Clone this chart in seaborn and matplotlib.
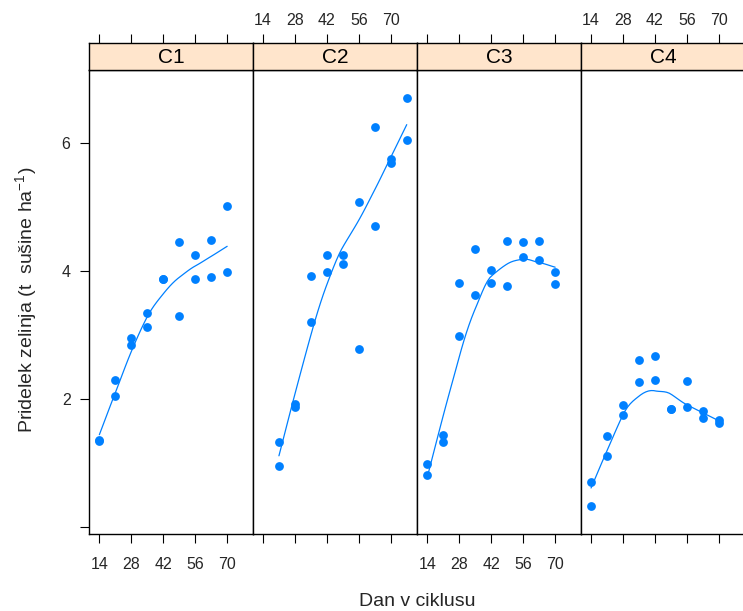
import numpy as np
import pandas as pd
import matplotlib
matplotlib.use('Agg')
import matplotlib.pyplot as plt
import seaborn as sns

# sampling days (two replicates per day)
days_14_70 = [14, 14, 21, 21, 28, 28, 35, 35, 42, 42, 49, 49, 56, 56, 63, 63, 70, 70]
days_21_77 = [21, 21, 28, 28, 35, 35, 42, 42, 49, 49, 56, 56, 63, 63, 70, 70, 77, 77]

panels = ['C1', 'C2', 'C3', 'C4']

c1 = [1.34, 1.36, 2.30, 2.05, 2.96, 2.85, 3.35, 3.12, 3.88, 3.87,
      4.45, 3.29, 4.25, 3.88, 4.49, 3.90, 5.01, 3.98]
c2 = [1.33, 0.95, 1.92, 1.87, 3.92, 3.21, 4.25, 3.98, 4.25, 4.11,
      5.08, 2.78, 6.25, 4.70, 5.75, 5.68, 6.69, 6.04]
c3 = [0.99, 0.81, 1.44, 1.33, 3.81, 2.99, 4.34, 3.62, 4.02, 3.81,
      4.46, 3.77, 4.45, 4.21, 4.46, 4.17, 3.98, 3.79]
c4 = [0.70, 0.34, 1.43, 1.12, 1.91, 1.75, 2.61, 2.26, 2.68, 2.30,
      1.85, 1.84, 2.28, 1.87, 1.82, 1.70, 1.68, 1.63]

df = pd.concat([
    pd.DataFrame({'panel': 'C1', 'day': days_14_70, 'yield': c1}),
    pd.DataFrame({'panel': 'C2', 'day': days_21_77, 'yield': c2}),
    pd.DataFrame({'panel': 'C3', 'day': days_14_70, 'yield': c3}),
    pd.DataFrame({'panel': 'C4', 'day': days_14_70, 'yield': c4}),
])


def loess(x, y, xnew, span=2/3, iterations=4):
    # local linear fit, tricube weights, bisquare robustness ("symmetric"),
    # values + slopes at vertices joined by cubic Hermite pieces (like R's interpolate)
    x = np.asarray(x, float)
    y = np.asarray(y, float)
    n = len(x)
    q = int(np.floor(n * span))
    rw = np.ones(n)

    def fit_at(x0):
        d = np.abs(x - x0)
        h = np.sort(d)[q - 1]
        u = np.clip(d / h, 0, 1)
        w = (1 - u**3)**3 * rw
        X = np.column_stack([np.ones(n), x - x0])
        A = X.T @ (X * w[:, None])
        b = X.T @ (w * y)
        return np.linalg.solve(A, b)

    for it in range(iterations - 1):
        res = y - np.array([fit_at(v)[0] for v in x])
        s = np.median(np.abs(res))
        u = np.clip(res / (6 * s), -1, 1)
        rw = (1 - u**2)**2

    verts = np.unique(x)
    fits = np.array([fit_at(v) for v in verts])
    out = []
    for xv in xnew:
        k = min(np.searchsorted(verts, xv, side='right') - 1, len(verts) - 2)
        x0, x1 = verts[k], verts[k + 1]
        hh = x1 - x0
        t = (xv - x0) / hh
        h00 = 2*t**3 - 3*t**2 + 1
        h10 = t**3 - 2*t**2 + t
        h01 = -2*t**3 + 3*t**2
        h11 = t**3 - t**2
        out.append(h00*fits[k, 0] + h10*hh*fits[k, 1] + h01*fits[k+1, 0] + h11*hh*fits[k+1, 1])
    return np.array(out)


sns.set_theme(style='white')
plt.rcParams['font.family'] = ['Liberation Sans', 'DejaVu Sans']
plt.rcParams['mathtext.fontset'] = 'custom'
plt.rcParams['mathtext.rm'] = 'Liberation Sans'
plt.rcParams['mathtext.it'] = 'Liberation Sans'

blue = '#0080ff'
W, H = 743, 611
fig = plt.figure(figsize=(W / 100, H / 100), dpi=100)

xmin, xmax = df['day'].min(), df['day'].max()
xpad = 0.07 * (xmax - xmin)
ymin, ymax = df['yield'].min(), df['yield'].max()
ypad = 0.07 * (ymax - ymin)

lefts = [89.3, 252.9, 417.3, 581.0]
pw = 163.9
p_bot, p_top = 534, 70
s_top = 42.7

for i, name in enumerate(panels):
    sub = df[df['panel'] == name]
    ax = fig.add_axes([lefts[i] / W, (H - p_bot) / H, pw / W, (p_bot - p_top) / H])
    sns.scatterplot(data=sub, x='day', y='yield', ax=ax, color=blue, s=40,
                    linewidth=0, marker='o', zorder=3)
    xs = np.linspace(sub['day'].min(), sub['day'].max(), 50)
    sns.lineplot(x=xs, y=loess(sub['day'], sub['yield'], xs), ax=ax,
                 color=blue, linewidth=0.9, estimator=None, sort=False)
    ax.set_xlim(xmin - xpad, xmax + xpad)
    ax.set_ylim(ymin - ypad, ymax + ypad)
    ax.set_xlabel('')
    ax.set_ylabel('')
    ax.set_xticks([14, 28, 42, 56, 70])
    ax.set_yticks([0, 2, 4, 6])
    ax.set_yticklabels(['', '2', '4', '6'])
    ax.tick_params(axis='x', bottom=True, top=False, direction='out', length=6.5,
                   width=0.8, color='black', labelsize=11.5, pad=10,
                   labelbottom=(i % 2 == 0))
    ax.tick_params(axis='y', left=(i == 0), right=False, direction='out', length=6.5,
                   width=0.8, color='black', labelsize=11.5, pad=7,
                   labelleft=(i == 0))
    for sp in ax.spines.values():
        sp.set_color('black')
        sp.set_linewidth(1.0)

    # strip with panel name and top axis ticks
    sax = fig.add_axes([lefts[i] / W, (H - p_top) / H, pw / W, (p_top - s_top) / H])
    sax.set_facecolor('#ffe5cc')
    sax.set_xlim(xmin - xpad, xmax + xpad)
    sax.set_ylim(0, 1)
    sax.set_yticks([])
    sax.set_xticks([14, 28, 42, 56, 70])
    sax.tick_params(axis='x', bottom=False, top=True, labelbottom=False,
                    labeltop=(i % 2 == 1), direction='out', length=6.5,
                    width=0.8, color='black', labelsize=11.5, pad=4)
    sax.text(0.5, 0.45, name, transform=sax.transAxes, ha='center', va='center',
             fontsize=15, color='black')
    for sp in sax.spines.values():
        sp.set_color('black')
        sp.set_linewidth(1.0)

fig.text((89.3 + 745) / 2 / W, 1 - 601 / H, 'Dan v ciklusu', ha='center', va='center',
         fontsize=14)
fig.text(26 / W, 1 - 300 / H, r'Pridelek zelinja (t  sušine ha$^{-1}$)',
         rotation=90, ha='center', va='center', fontsize=14)

fig.savefig('out.png', dpi=100)
